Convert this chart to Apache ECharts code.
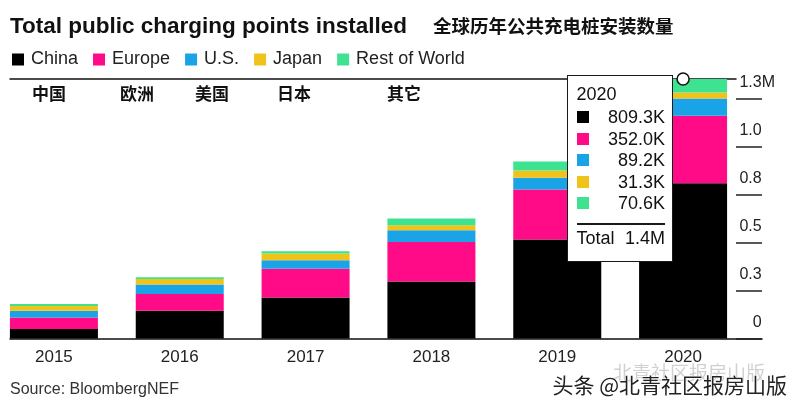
<!DOCTYPE html>
<html><head><meta charset="utf-8">
<script src="https://cdn.jsdelivr.net/npm/echarts@6/dist/echarts.min.js"></script>
<style>html,body{margin:0;padding:0;background:#fff}#c{width:792px;height:410px}</style>
</head><body><div id="c"></div>
<script>
// ---- data ----
const years = ['2015', '2016', '2017', '2018', '2019', '2020'];
const seriesNames = ['China', 'Europe', 'U.S.', 'Japan', 'Rest of World'];
const seriesNamesZh = ['中国', '欧洲', '美国', '日本', '其它'];
const china  = [49, 145, 214, 297, 516, 809.3];   // thousands
const europe = [61, 87, 149, 206, 260, 352.0];
const us     = [35, 50, 45, 61, 62, 89.2];
const japan  = [24, 28, 35, 26, 38, 31.3];
const rest   = [11, 9, 12, 35, 47, 70.6];
const yTicks = [0, 250, 500, 750, 1000, 1250];
const yTickLabels = ['0', '0.3', '0.5', '0.8', '1.0', '1.3'];
const yUnit = 'M';
const titleText = 'Total public charging points installed';
const titleZh = '全球历年公共充电桩安装数量';
const sourceText = 'Source: BloombergNEF';
const watermark = '头条 @北青社区报房山版';
const watermark2 = '北青社区报房山版';

// ---- style ----
const colors = ['#000000', '#ff0a87', '#1ba3e8', '#f0c31a', '#3ee391'];
const FONT = "'Liberation Sans', Arial, sans-serif";
const ZH = "'Noto Sans CJK SC', sans-serif";

const allSeries = [china, europe, us, japan, rest];
const totals = years.map((_, i) => allSeries.reduce((s, a) => s + a[i], 0));
const yMax = Math.max(...totals);
const hi = years.length - 1;

function fmtK(v) { return v.toFixed(1) + 'K'; }
function fmtM(v) { return (v / 1000).toFixed(1) + 'M'; }

const tipHtml = (() => {
  let h = '<div style="position:relative;box-sizing:border-box;width:106px;height:187px;background:#fff;border:1.5px solid #1a1a1a;font-family:' + FONT.replace(/'/g, '&quot;') + ';font-size:18px;color:#111;">';
  h += '<div style="position:absolute;left:8.5px;top:8px;line-height:20px;">' + years[hi] + '</div>';
  allSeries.forEach((arr, k) => {
    const top = 31 + k * 21.5;
    h += '<div style="position:absolute;left:8.5px;top:' + (top + 4) + 'px;width:12px;height:12px;background:' + colors[k] + ';"></div>';
    h += '<div style="position:absolute;right:7px;top:' + top + 'px;line-height:20px;">' + fmtK(arr[hi]) + '</div>';
  });
  h += '<div style="position:absolute;left:8.5px;right:7px;top:147px;height:1.5px;background:#1a1a1a;"></div>';
  h += '<div style="position:absolute;left:8.5px;top:152px;line-height:20px;">Total</div>';
  h += '<div style="position:absolute;right:7px;top:152px;line-height:20px;">' + fmtM(totals[hi]) + '</div>';
  h += '</div>';
  return h;
})();

const graphics = [
  { type: 'text', left: 10, top: 15, style: { text: titleText, font: 'bold 22.5px ' + FONT, fill: '#111' } },
  { type: 'text', left: 433, top: 17, style: { text: titleZh, font: 'bold 18.5px ' + ZH, fill: '#111' } },
  { type: 'text', left: 10, top: 382, style: { text: sourceText, font: '16px ' + FONT, fill: '#333' } },
  { type: 'text', left: 613, top: 363, style: { text: watermark2, font: '19px ' + ZH, fill: 'rgba(120,120,120,0.35)' } },
  { type: 'text', left: 552, top: 374, style: { text: watermark, font: '21px ' + ZH, fill: '#222', stroke: '#fff', lineWidth: 1 } }
];
const zhX = [32, 120, 195, 277, 387];
seriesNamesZh.forEach((t, i) => {
  graphics.push({ type: 'text', left: zhX[i], top: 85, style: { text: t, font: 'bold 17px ' + ZH, fill: '#111' } });
});

const gridTop = 79, gridBottom = 71.5;

const chart = echarts.init(document.getElementById('c'), null, { renderer: 'canvas' });
chart.setOption({
  animation: false,
  backgroundColor: '#fff',
  color: colors,
  textStyle: { fontFamily: FONT },
  legend: {
    data: seriesNames, left: 12, top: 50.5, padding: 0,
    icon: 'rect', itemWidth: 12, itemHeight: 12, itemGap: 15,
    textStyle: { fontSize: 18, color: '#222', fontFamily: FONT, padding: [0, 0, 0, 2] }
  },
  grid: [
    { left: -9, right: 46, top: gridTop, bottom: gridBottom, outerBoundsMode: 'none', containLabel: false },
    { left: 10, right: 30, top: gridTop, bottom: gridBottom, outerBoundsMode: 'none' },
    { left: 10, right: 56, top: gridTop, bottom: gridBottom, outerBoundsMode: 'none' }
  ],
  xAxis: [
    { type: 'category', data: years, gridIndex: 0,
      axisLine: { show: false }, axisTick: { show: false },
      axisLabel: { fontSize: 17, color: '#222', margin: 10, fontFamily: FONT } },
    { type: 'value', gridIndex: 1, position: 'bottom',
      axisLine: { show: true, onZero: false, lineStyle: { color: '#111', width: 1.5 } },
      axisTick: { show: false }, axisLabel: { show: false }, splitLine: { show: false } },
    { type: 'value', gridIndex: 2, position: 'top',
      axisLine: { show: true, onZero: false, lineStyle: { color: '#111', width: 1.5 } },
      axisTick: { show: false }, axisLabel: { show: false }, splitLine: { show: false } }
  ],
  yAxis: [
    { type: 'value', gridIndex: 0, position: 'right', offset: -10,
      min: 0, max: yMax,
      axisLine: { show: false }, splitLine: { show: false },
      axisTick: { show: true, inside: false, length: 26, customValues: yTicks,
        lineStyle: { color: '#222', width: 1.5 } },
      axisLabel: {
        customValues: yTicks, align: 'right', margin: 39, verticalAlign: 'bottom',
        padding: [0, 0, 8, 0], fontSize: 16, color: '#222', fontFamily: FONT,
        formatter: (v) => {
          const i = yTicks.indexOf(v);
          const t = i >= 0 ? yTickLabels[i] : '';
          return i === yTicks.length - 1 ? t + '{m|' + yUnit + '}' : t + '{h|' + yUnit + '}';
        },
        rich: {
          m: { fontSize: 16, color: '#222', fontFamily: FONT },
          h: { fontSize: 16, color: 'rgba(0,0,0,0)', fontFamily: FONT }
        }
      } },
    { type: 'value', gridIndex: 1, show: false },
    { type: 'value', gridIndex: 2, show: false }
  ],
  tooltip: {
    trigger: 'item', triggerOn: 'none', alwaysShowContent: true,
    position: [567, 75], padding: 0, borderWidth: 0,
    backgroundColor: 'transparent', shadowBlur: 0, shadowColor: 'transparent',
    extraCssText: 'box-shadow:none;border-radius:0;',
    transitionDuration: 0, showDelay: 0, hideDelay: 0,
    formatter: () => tipHtml
  },
  series: allSeries.map((arr, k) => {
    const s = {
      name: seriesNames[k], type: 'bar', stack: 'total', data: arr,
      xAxisIndex: 0, yAxisIndex: 0, barWidth: 88,
      itemStyle: { color: colors[k] },
      emphasis: { disabled: true }
    };
    if (k === allSeries.length - 1) {
      s.markPoint = {
        symbol: 'circle', symbolSize: 12, silent: true,
        itemStyle: { color: '#fff', borderColor: '#111', borderWidth: 1.5 },
        label: { show: false },
        data: [{ coord: [years[hi], totals[hi]] }]
      };
    }
    return s;
  }),
  graphic: graphics
});
chart.dispatchAction({ type: 'showTip', seriesIndex: 4, dataIndex: hi });
</script></body></html>
